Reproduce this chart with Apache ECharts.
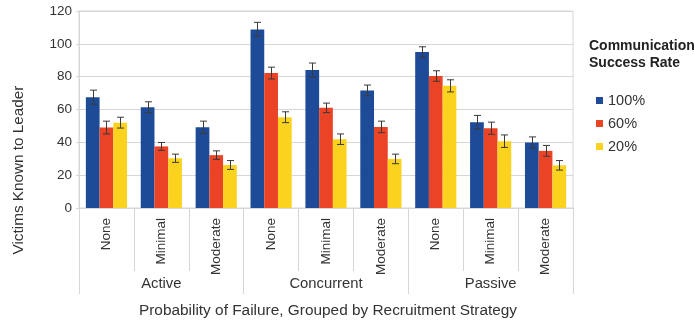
<!DOCTYPE html>
<html>
<head>
<meta charset="utf-8">
<script src="https://cdn.jsdelivr.net/npm/echarts@6/dist/echarts.min.js"></script>
<style>html,body{margin:0;padding:0;background:#fff}#c{width:694px;height:323px}</style>
</head>
<body>
<div id="c"></div>
<script>
var categories = ['None','Minimal','Moderate','None','Minimal','Moderate','None','Minimal','Moderate'];
var groups = ['Active','Concurrent','Passive'];
var seriesNames = ['100%','60%','20%'];
var s100 = [67.5, 61.4, 49.2, 108.8, 84.0, 71.6, 95.0, 52.3, 39.9];
var s60  = [49.0, 37.5, 32.2, 82.2, 61.0, 49.4, 80.4, 48.6, 34.8];
var s20  = [52.0, 30.3, 26.2, 55.3, 41.9, 29.9, 74.4, 40.7, 26.0];
var e100 = [4.3, 3.3, 3.7, 4.3, 4.3, 3.3, 3.2, 4.1, 3.4];
var e60  = [3.9, 2.4, 2.6, 3.6, 2.9, 3.5, 3.2, 3.7, 3.3];
var e20  = [3.3, 2.5, 2.7, 3.3, 3.2, 2.9, 3.7, 3.8, 2.9];
var yTicks = [0, 20, 40, 60, 80, 100, 120];

var colors = ['#1d4b98', '#ea4325', '#fbd21e'];
var FONT = "'Liberation Sans', Arial, sans-serif";
var catGap = 0.25;
var values = [s100, s60, s20];
var errors = [e100, e60, e20];

var chart = echarts.init(document.getElementById('c'), null, {renderer: 'canvas'});

var series = [];
values.forEach(function (vals, i) {
  series.push({
    name: seriesNames[i], type: 'bar', data: vals,
    barGap: '0%', barCategoryGap: (catGap * 100) + '%',
    itemStyle: {color: colors[i]}, z: 2
  });
});
values.forEach(function (vals, i) {
  series.push({
    name: 'err' + i, type: 'custom', z: 5,
    data: vals.map(function (v, k) { return [k, v, errors[i][k]]; }),
    encode: {x: 0, y: 1},
    renderItem: function (params, api) {
      var idx = api.value(0), v = api.value(1), e = api.value(2);
      var band = api.size([1, 0])[0];
      var bw = band * (1 - catGap) / 3;
      var c = api.coord([idx, v]);
      var x = Math.round(c[0] + (i - 1) * bw) + 0.5;
      var top = api.coord([idx, v + e])[1];
      var bot = api.coord([idx, v - e])[1];
      var cap = 3.5;
      var st = {stroke: '#3a3a3a', lineWidth: 1};
      return {type: 'group', children: [
        {type: 'line', shape: {x1: x, y1: top, x2: x, y2: bot}, style: st},
        {type: 'line', shape: {x1: x - cap, y1: top, x2: x + cap, y2: top}, style: st},
        {type: 'line', shape: {x1: x - cap, y1: bot, x2: x + cap, y2: bot}, style: st}
      ]};
    }
  });
});

chart.setOption({
  animation: false,
  textStyle: {fontFamily: FONT},
  grid: {left: 79, top: 11, width: 494, height: 197, show: true, borderColor: '#d6d6d6', borderWidth: 1},
  legend: {
    data: seriesNames, orient: 'vertical', left: 596, top: 92,
    itemWidth: 7, itemHeight: 7, itemGap: 6, padding: 0, icon: 'rect',
    textStyle: {fontSize: 14.5, color: '#333', fontFamily: FONT, lineHeight: 17}
  },
  xAxis: [{
    type: 'category', data: categories, position: 'bottom',
    axisLine: {lineStyle: {color: '#d6d6d6'}},
    axisTick: {show: true, interval: 0, length: 63, lineStyle: {color: '#d6d6d6'}},
    axisLabel: {interval: 0, rotate: 90, margin: 10, fontSize: 13.5, color: '#333', fontFamily: FONT},
    splitLine: {show: false}
  }, {
    type: 'category', data: groups, position: 'bottom', offset: 0,
    axisLine: {show: false},
    axisTick: {show: true, interval: 0, length: 86, lineStyle: {color: '#d6d6d6'}},
    axisLabel: {interval: 0, margin: 68, fontSize: 14.8, color: '#333', fontFamily: FONT},
    splitLine: {show: false}
  }],
  yAxis: {
    type: 'value', min: yTicks[0], max: yTicks[yTicks.length - 1], interval: yTicks[1] - yTicks[0],
    axisLine: {show: true, lineStyle: {color: '#d6d6d6'}},
    axisTick: {show: true, length: 3, lineStyle: {color: '#d6d6d6'}},
    axisLabel: {margin: 7, fontSize: 13.5, color: '#333', fontFamily: FONT},
    splitLine: {lineStyle: {color: '#d6d6d6'}}
  },
  graphic: [
    {type: 'text', left: 589, top: 38, style: {text: 'Communication\nSuccess Rate', font: 'bold 14px ' + FONT, fill: '#222', lineHeight: 17}},
    {type: 'text', x: 328, y: 311, style: {text: 'Probability of Failure, Grouped by Recruitment Strategy', font: '15.4px ' + FONT, fill: '#333', textAlign: 'center', textVerticalAlign: 'middle'}},
    {type: 'text', x: 19, y: 170, rotation: Math.PI / 2, style: {text: 'Victims Known to Leader', font: '15.3px ' + FONT, fill: '#333', textAlign: 'center', textVerticalAlign: 'middle'}}
  ],
  series: series
});
</script>
</body>
</html>
